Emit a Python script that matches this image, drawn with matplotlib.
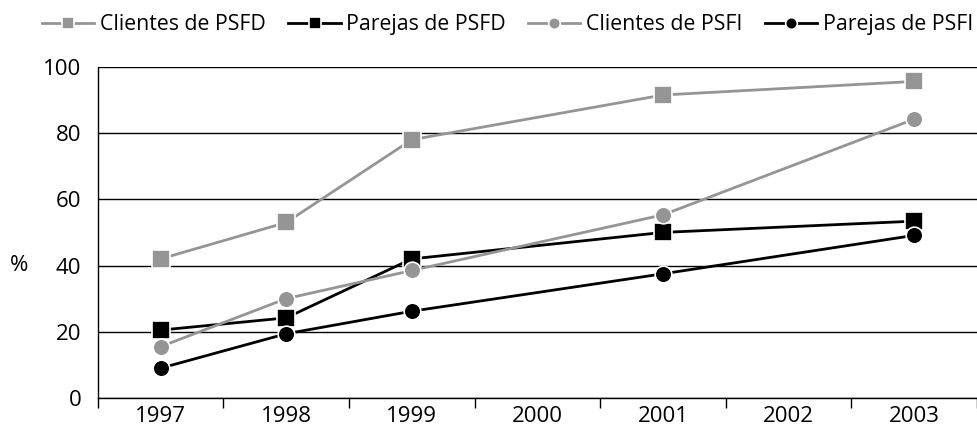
import matplotlib.pyplot as plt

plt.rcParams["font.family"] = ["Open Sans", "DejaVu Sans"]

years = ["1997", "1998", "1999", "2000", "2001", "2002", "2003"]
data_years = ["1997", "1998", "1999", "2001", "2003"]

clientes_psfd = [42, 53, 78, 91.5, 95.6]
parejas_psfd = [20.5, 24.2, 42, 50, 53.4]
clientes_psfi = [15.5, 30, 38.5, 55.3, 84.2]
parejas_psfi = [9, 19.4, 26.2, 37.5, 49.1]

gray = "#959595"
series = [
    ("Clientes de PSFD", clientes_psfd, gray, "s"),
    ("Parejas de PSFD", parejas_psfd, "black", "s"),
    ("Clientes de PSFI", clientes_psfi, gray, "o"),
    ("Parejas de PSFI", parejas_psfi, "black", "o"),
]

x = [years.index(y) for y in data_years]

fig = plt.figure(figsize=(9.78, 4.34), dpi=100)
ax = fig.add_axes([0.1, 0.083, 0.899, 0.763])

for label, vals, col, mk in series:
    ax.plot(x, vals, color=col, lw=2, marker=mk, ms=12.5 if mk == "s" else 12,
            mfc=col, mec="white", mew=1.2, label=label, zorder=3)

ax.set_xlim(-0.5, len(years) - 0.5)
ax.set_ylim(0, 100)
ax.set_yticks(range(0, 101, 20))
ax.yaxis.grid(True, color="black", lw=1)
ax.set_axisbelow(True)
ax.tick_params(axis="y", length=0, labelsize=16, pad=12)

ax.set_xticks(range(len(years)))
ax.set_xticklabels(years)
ax.set_xticks([i - 0.5 for i in range(len(years) + 1)], minor=True)
ax.tick_params(axis="x", which="major", length=0, labelsize=16, pad=6)
ax.tick_params(axis="x", which="minor", length=7, width=1, direction="out")

for s in ["top", "right"]:
    ax.spines[s].set_visible(False)
for s in ["left", "bottom"]:
    ax.spines[s].set_linewidth(1)

ax.set_ylabel("%", rotation=0, fontsize=16, va="center", ha="center")
ax.yaxis.set_label_coords(-0.09, 0.4)

ax.legend(loc="lower left", bbox_to_anchor=(-0.063, 1.095), ncol=4, frameon=False,
          fontsize=15.3, markerscale=0.7, handlelength=2.45, handletextpad=0.28,
          columnspacing=1.05, borderaxespad=0, borderpad=0)

fig.savefig("out.png", dpi=100)
